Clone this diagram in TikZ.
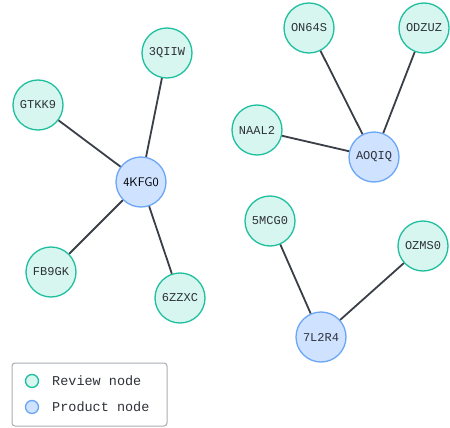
\documentclass[tikz,border=0pt]{standalone}
\usepackage{fontspec}
\setmainfont{Liberation Sans}
\setmonofont{Liberation Mono}
\begin{document}
\begin{tikzpicture}[x=1pt,y=-1pt,
  review/.style={circle, draw=revstroke, fill=revfill, line width=1.3pt,
    minimum size=50pt, inner sep=0pt, text=txt, font=\ttfamily\fontsize{12}{14}\selectfont},
  product/.style={circle, draw=prodstroke, fill=prodfill, line width=1.3pt,
    minimum size=50pt, inner sep=0pt, text=txt, font=\ttfamily\fontsize{12}{14}\selectfont},
  link/.style={draw=edge, line width=1.8pt},
  legdot/.style={circle, line width=1.3pt, minimum size=13pt, inner sep=0pt},
  legtext/.style={anchor=west, inner sep=0pt, text=txt, font=\ttfamily\fontsize{13.5}{15}\selectfont}]
\definecolor{revfill}{HTML}{D6F6EF}
\definecolor{revstroke}{HTML}{1DBF9E}
\definecolor{prodfill}{HTML}{CFE2FF}
\definecolor{prodstroke}{HTML}{6AA6F5}
\definecolor{edge}{HTML}{3A3F47}
\definecolor{txt}{HTML}{2E3238}
\definecolor{legborder}{HTML}{A8ADB3}
\useasboundingbox (0,0) rectangle (450,428);

% first cluster
\node[review] (q3) at (167,53) {3QIIW};
\node[review] (gt) at (38,105) {GTKK9};
\node[product, font=\sffamily\fontsize{12.5}{14}\selectfont, text=black] (k4) at (141,182) {4KFG0};
\node[review] (fb) at (51,272) {FB9GK};
\node[review] (zz) at (180,298) {6ZZXC};

% second cluster
\node[review] (on) at (309,28) {ON64S};
\node[review] (od) at (424,28) {ODZUZ};
\node[review] (na) at (257,130) {NAAL2};
\node[product] (ao) at (374,157) {AOQIQ};

% third cluster
\node[review] (mc) at (270,221) {5MCG0};
\node[review] (oz) at (423,246) {OZMS0};
\node[product] (l7) at (321,337) {7L2R4};

% connectors, drawn between node borders
\path[link] (q3) -- (k4);
\path[link] (gt) -- (k4);
\path[link] (fb) -- (k4);
\path[link] (zz) -- (k4);
\path[link] (on) -- (ao);
\path[link] (od) -- (ao);
\path[link] (na) -- (ao);
\path[link] (mc) -- (l7);
\path[link] (oz) -- (l7);

% legend
\draw[legborder, line width=1pt, rounded corners=3pt, fill=white] (12,363) rectangle (167,426);
\node[legdot, draw=revstroke, fill=revfill] (lr) at (32,381) {};
\node[legdot, draw=prodstroke, fill=prodfill] (lp) at (32,407) {};
\node[legtext] (lrt) at (52,381) {Review node};
\node[legtext] (lpt) at (52,407) {Product node};
\end{tikzpicture}
\end{document}
